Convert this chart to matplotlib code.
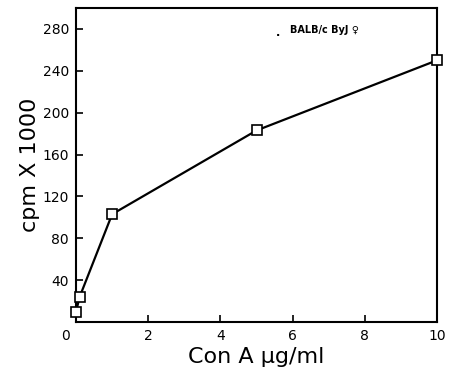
import matplotlib
matplotlib.use("Agg")
import matplotlib.pyplot as plt
import matplotlib.transforms as mtransforms

conc = [0.0, 0.1, 1.0, 5.0, 10.0]
cpm = [10, 24, 103, 183, 250]
xticks = [0, 2, 4, 6, 8, 10]
xticklabels = ["0", "2", "4", "6", "8", "10"]
yticks = [40, 80, 120, 160, 200, 240, 280]
yticklabels = ["40", "80", "120", "160", "200", "240", "280"]
legend_text = "BALB/c ByJ \u2640"

plt.rcParams['font.family'] = ['DejaVu Sans']
fig = plt.figure(figsize=(4.5, 3.91), dpi=100)
ax = fig.add_axes([0.169, 0.1765, 0.802, 0.803])

ax.plot(conc, cpm, color='black', lw=1.6, marker='s', ms=7.5,
        mfc='white', mec='black', mew=1.2, clip_on=False, zorder=3)

ax.set_xlim(0, 10)
ax.set_ylim(0, 300)
ax.set_xticks(xticks)
ax.set_xticklabels(xticklabels, fontsize=10)
ax.set_yticks(yticks)
ax.set_yticklabels(yticklabels, fontsize=10)
ax.tick_params(direction='in', length=5, width=1.2, pad=5)
for s in ax.spines.values():
    s.set_linewidth(1.5)

# shift the "0" label left, toward the corner
lbl0 = ax.get_xticklabels()[0]
lbl0.set_transform(lbl0.get_transform() + mtransforms.ScaledTranslation(-0.11, 0, fig.dpi_scale_trans))

ax.set_xlabel("Con A \u00b5g/ml", fontsize=16, labelpad=3)
ax.set_ylabel("cpm X 1000", fontsize=16, labelpad=2)

ax.text(0.554, 0.922, ".", transform=ax.transAxes, fontsize=8, fontweight='bold', va='center')
ax.text(0.593, 0.93, legend_text, transform=ax.transAxes, fontsize=7, fontweight='bold', va='center')

fig.savefig("out.png", dpi=100)
